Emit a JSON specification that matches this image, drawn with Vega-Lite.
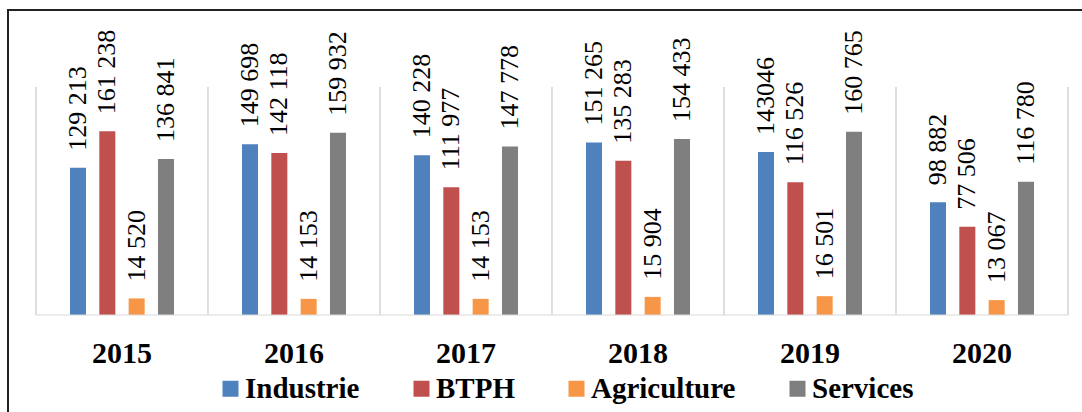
{
  "$schema": "https://vega.github.io/schema/vega-lite/v6.json",
  "autosize": "none",
  "width": 1080,
  "height": 410,
  "padding": {"left": 8, "top": 10, "right": -6, "bottom": -8},
  "background": "white",
  "title": {
    "text": "Figure 4 : Evolution du chiffre d'affaires des principaux secteurs d'activité (en millions)",
    "font": "Liberation Serif",
    "fontSize": 28,
    "fontWeight": "bold",
    "color": "black",
    "anchor": "start",
    "offset": 10,
    "dx": 25
  },
  "config": {
    "view": {"stroke": "#222222", "strokeWidth": 2}
  },
  "data": {"values": [
      {"year": "2015", "sector": "Industrie", "value": 129213, "label": "129 213"},
      {"year": "2015", "sector": "BTPH", "value": 161238, "label": "161 238"},
      {"year": "2015", "sector": "Agriculture", "value": 14520, "label": "14 520"},
      {"year": "2015", "sector": "Services", "value": 136841, "label": "136 841"},
      {"year": "2016", "sector": "Industrie", "value": 149698, "label": "149 698"},
      {"year": "2016", "sector": "BTPH", "value": 142118, "label": "142 118"},
      {"year": "2016", "sector": "Agriculture", "value": 14153, "label": "14 153"},
      {"year": "2016", "sector": "Services", "value": 159932, "label": "159 932"},
      {"year": "2017", "sector": "Industrie", "value": 140228, "label": "140 228"},
      {"year": "2017", "sector": "BTPH", "value": 111977, "label": "111 977"},
      {"year": "2017", "sector": "Agriculture", "value": 14153, "label": "14 153"},
      {"year": "2017", "sector": "Services", "value": 147778, "label": "147 778"},
      {"year": "2018", "sector": "Industrie", "value": 151265, "label": "151 265"},
      {"year": "2018", "sector": "BTPH", "value": 135283, "label": "135 283"},
      {"year": "2018", "sector": "Agriculture", "value": 15904, "label": "15 904"},
      {"year": "2018", "sector": "Services", "value": 154433, "label": "154 433"},
      {"year": "2019", "sector": "Industrie", "value": 143046, "label": "143046"},
      {"year": "2019", "sector": "BTPH", "value": 116526, "label": "116 526"},
      {"year": "2019", "sector": "Agriculture", "value": 16501, "label": "16 501"},
      {"year": "2019", "sector": "Services", "value": 160765, "label": "160 765"},
      {"year": "2020", "sector": "Industrie", "value": 98882, "label": "98 882"},
      {"year": "2020", "sector": "BTPH", "value": 77506, "label": "77 506"},
      {"year": "2020", "sector": "Agriculture", "value": 13067, "label": "13 067"},
      {"year": "2020", "sector": "Services", "value": 116780, "label": "116 780"}
  ]},
  "encoding": {
    "x": {
      "field": "year",
      "type": "nominal",
      "scale": {"type": "band", "paddingInner": 0, "paddingOuter": 0.1395, "align": 0.5833},
      "axis": {
        "title": null,
        "orient": "bottom",
        "offset": -105,
        "domain": false,
        "ticks": false,
        "grid": false,
        "labelAngle": 0,
        "labelPadding": 23,
        "labelFont": "Liberation Serif",
        "labelFontSize": 30,
        "labelFontWeight": "bold",
        "labelColor": "black"
      }
    }
  },
  "layer": [
    {
      "mark": {"type": "bar"},
      "encoding": {
        "xOffset": {
          "field": "sector",
          "type": "nominal",
          "scale": {"domain": ["Industrie", "BTPH", "Agriculture", "Services"], "range": [34, 138], "paddingInner": 0.454, "paddingOuter": 0}
        },
        "y": {
          "field": "value",
          "type": "quantitative",
          "scale": {"domain": [-92105, 267544], "nice": false, "zero": false},
          "axis": null
        },
        "y2": {"datum": 0},
        "color": {
          "field": "sector",
          "type": "nominal",
          "scale": {"domain": ["Industrie", "BTPH", "Agriculture", "Services"], "range": ["#4F81BD", "#C0504D", "#F79646", "#7F7F7F"]},
          "legend": {
            "title": null,
            "orient": "none",
            "legendX": 208,
            "legendY": 364,
            "direction": "horizontal",
            "columns": 4,
            "padding": 0,
            "columnPadding": 47,
            "labelOffset": 0,
            "symbolType": "square",
            "symbolSize": 256,
            "symbolStrokeWidth": 0,
            "labelFont": "Liberation Serif",
            "labelFontSize": 29,
            "labelFontWeight": "bold",
            "labelColor": "black",
            "labelLimit": 400
          }
        }
      }
    },
    {
      "mark": {"type": "text", "angle": 270, "align": "left", "baseline": "middle", "dx": 17, "font": "Liberation Serif", "fontSize": 26, "color": "black"},
      "encoding": {
        "xOffset": {"field": "sector", "type": "nominal"},
        "y": {"field": "value", "type": "quantitative"},
        "text": {"field": "label"}
      }
    },
    {
      "transform": [{"filter": "datum.sector == 'Industrie'"}],
      "mark": {"type": "rule", "color": "#D9D9D9", "strokeWidth": 1.7},
      "encoding": {
        "x": {"field": "year", "type": "nominal", "bandPosition": 0},
        "y": {"datum": 0, "type": "quantitative", "scale": {"domain": [-92105, 267544], "nice": false, "zero": false}},
        "y2": {"datum": 200000}
      }
    },
    {
      "transform": [{"filter": "datum.sector == 'Industrie' && datum.year == '2020'"}],
      "mark": {"type": "rule", "color": "#D9D9D9", "strokeWidth": 1.7},
      "encoding": {
        "x": {"field": "year", "type": "nominal", "bandPosition": 1},
        "y": {"datum": 0, "type": "quantitative", "scale": {"domain": [-92105, 267544], "nice": false, "zero": false}},
        "y2": {"datum": 200000}
      }
    },
    {
      "transform": [{"filter": "datum.sector == 'Industrie'"}],
      "mark": {"type": "rect", "fillOpacity": 0, "stroke": "#D9D9D9", "strokeWidth": 1.2},
      "encoding": {
        "y": {"datum": 0, "type": "quantitative", "scale": {"domain": [-92105, 267544], "nice": false, "zero": false}},
        "y2": {"datum": 0}
      }
    }
  ]
}
